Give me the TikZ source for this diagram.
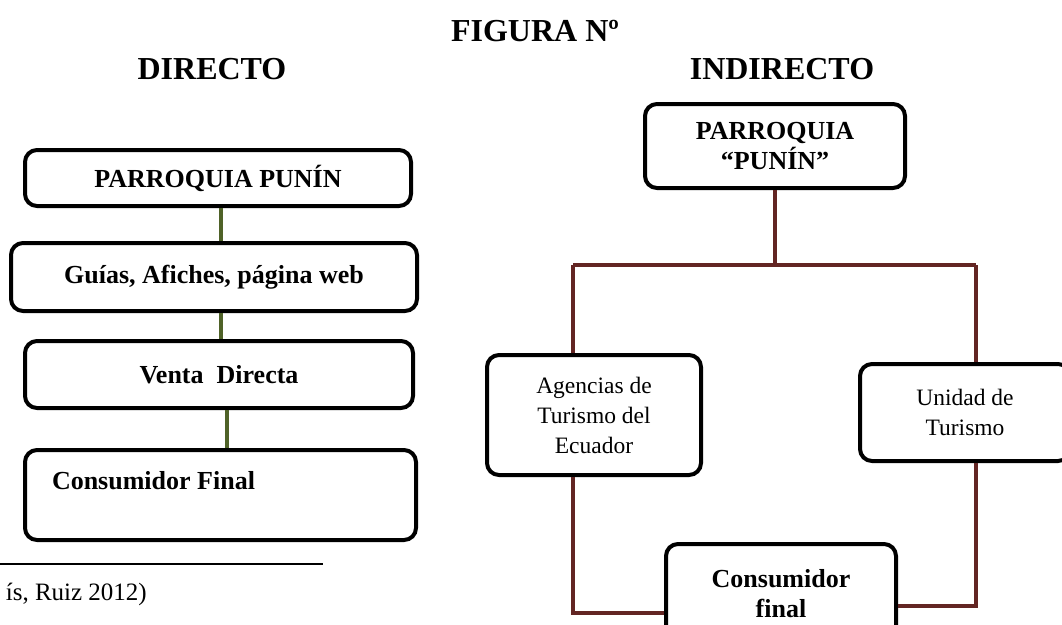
\documentclass[tikz,border=0pt]{standalone}
\usepackage{fontspec}
\setmainfont{Liberation Serif}
\definecolor{olivelink}{HTML}{4F6228}
\definecolor{maroonlink}{HTML}{632523}

\begin{document}
\begin{tikzpicture}[x=1pt,y=-1pt,
  box/.style={draw,line width=4pt,rounded corners=12pt,align=center,inner sep=0pt},
  boldtxt/.style={font=\bfseries\fontsize{26}{30}\selectfont},
  plaintxt/.style={font=\fontsize{23.5}{30}\selectfont},
  title/.style={font=\bfseries\fontsize{32}{36}\selectfont},
  gline/.style={draw,line width=3.5pt,olivelink},
  rline/.style={draw,line width=3.5pt,maroonlink}]
\useasboundingbox (0,0) rectangle (1062,624);
\clip (0,0) rectangle (1062,624);
% titles
\node[title] (fig) at (535,31) {FIGURA Nº};
\node[title] (dir) at (212,69) {DIRECTO};
\node[title] (ind) at (782,69) {INDIRECTO};
% directo
\node[box,boldtxt,minimum width=386pt,minimum height=56pt] (d1) at (218,178) {PARROQUIA PUNÍN};
\node[box,boldtxt,minimum width=406pt,minimum height=68pt] (d2) at (214,277) {Guías, Afiches, página web};
\node[box,boldtxt,minimum width=388pt,minimum height=67pt] (d3) at (219,374.5) {Venta\ \ Directa};
\node[box,boldtxt,align=left,minimum width=391pt,minimum height=90pt] (d4) at (220.5,495) {\makebox[337pt][l]{Consumidor Final}\\~};
\path[gline] (d1.south -| 221,0) -- (d2.north -| 221,0);
\path[gline] (d2.south -| 221,0) -- (d3.north -| 221,0);
\path[gline] (d3.south -| 227,0) -- (d4.north -| 227,0);
% indirecto
\node[box,boldtxt,minimum width=260pt,minimum height=84pt] (i1) at (775,146) {PARROQUIA\\“PUNÍN”};
\node[box,plaintxt,minimum width=214pt,minimum height=120pt] (i2) at (594,415) {Agencias de\\Turismo del\\Ecuador};
\node[box,plaintxt,minimum width=210pt,minimum height=97pt] (i3) at (965,412.5) {Unidad de\\Turismo};
\node[box,boldtxt,minimum width=230pt,minimum height=100pt] (i4) at (781,594) {Consumidor\\final};
\coordinate (hl) at (573,265);
\coordinate (hr) at (976,265);
\path[rline] (i1.south) -- (i1.south |- hl);
\path[rline] (hl) -- (hr);
\path[rline] (hl) -- (hl |- i2.north);
\path[rline] (hr) -- (hr |- i3.north);
\path[rline] (hl |- i2.south) -- (hl |- 0,613) -- (i4.west |- 0,613);
\path[rline] (hr |- i3.south) -- (hr |- 0,606) -- (i4.east |- 0,606);
% fuente
\draw[line width=2pt] (0,564) -- (323,564);
\node[anchor=base east,font=\fontsize{25}{30}\selectfont,inner sep=0pt] (src) at (147,600) {ís, Ruiz 2012)};
\end{tikzpicture}
\end{document}
